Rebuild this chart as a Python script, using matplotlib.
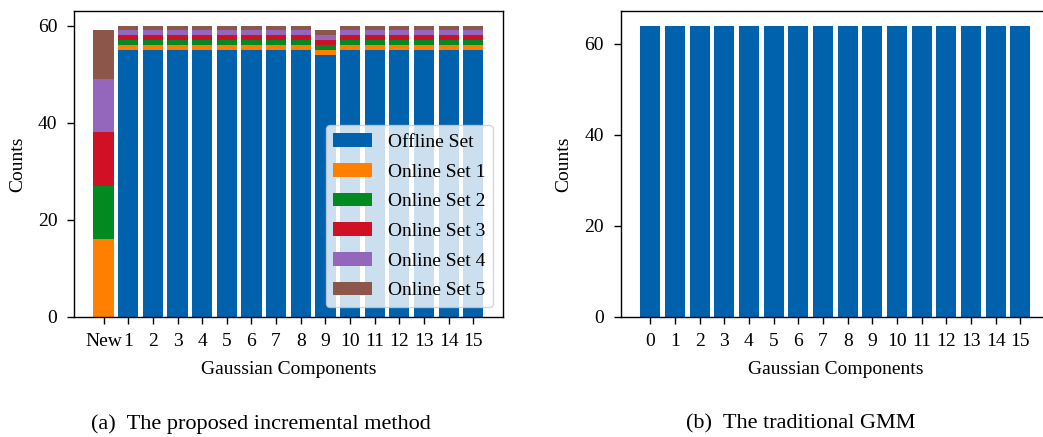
import matplotlib
matplotlib.use("Agg")
import matplotlib.pyplot as plt
import numpy as np

plt.rcParams['font.family'] = ['Liberation Serif', 'DejaVu Serif']

# ---- data ----
left_labels = ['New'] + [str(i) for i in range(1, 16)]
offline = [0, 55, 55, 55, 55, 55, 55, 55, 55, 54, 55, 55, 55, 55, 55, 55]
online1 = [16, 1, 1, 1, 1, 1, 1, 1, 1, 1, 1, 1, 1, 1, 1, 1]
online2 = [11, 1, 1, 1, 1, 1, 1, 1, 1, 1, 1, 1, 1, 1, 1, 1]
online3 = [11, 1, 1, 1, 1, 1, 1, 1, 1, 1, 1, 1, 1, 1, 1, 1]
online4 = [11, 1, 1, 1, 1, 1, 1, 1, 1, 1, 1, 1, 1, 1, 1, 1]
online5 = [10, 1, 1, 1, 1, 1, 1, 1, 1, 1, 1, 1, 1, 1, 1, 1]
series_names = ['Offline Set', 'Online Set 1', 'Online Set 2',
                'Online Set 3', 'Online Set 4', 'Online Set 5']

right_labels = [str(i) for i in range(16)]
gmm_counts = [64] * 16

colors = ['#0062ad', '#ff7f00', '#008a1f', '#d01025', '#9467bd', '#8c564b']

fig = plt.figure(figsize=(10.43, 4.37), dpi=100)
ax1 = fig.add_axes([0.0709, 0.2753, 0.4113, 0.6995])
ax2 = fig.add_axes([0.5951, 0.2753, 0.4116, 0.6995])

fs = 14
x = np.arange(len(left_labels))
bottom = np.zeros(len(left_labels))
for vals, name, c in zip([offline, online1, online2, online3, online4, online5],
                         series_names, colors):
    ax1.bar(x, vals, width=0.82, bottom=bottom, color=c, label=name)
    bottom += np.array(vals)
ax1.set_xticks(x)
ax1.set_xticklabels(left_labels)
ax1.set_yticks([0, 20, 40, 60])
ax1.set_xlabel('Gaussian Components', fontsize=fs, labelpad=8)
ax1.set_ylabel('Counts', fontsize=fs, labelpad=8)
leg = ax1.legend(loc='lower right', fontsize=fs, framealpha=0.8,
                 fancybox=True, labelspacing=0.62)

x2 = np.arange(len(right_labels))
ax2.bar(x2, gmm_counts, width=0.82, color=colors[0])
ax2.set_xticks(x2)
ax2.set_xticklabels(right_labels)
ax2.set_yticks([0, 20, 40, 60])
ax2.set_xlabel('Gaussian Components', fontsize=fs, labelpad=8)
ax2.set_ylabel('Counts', fontsize=fs, labelpad=9)

for ax in (ax1, ax2):
    ax.tick_params(labelsize=fs, length=5, width=1, pad=7)
    for s in ax.spines.values():
        s.set_linewidth(1.0)

fig.text(0.25, 0.03, '(a)  The proposed incremental method', ha='center',
         va='center', fontsize=16)
fig.text(0.768, 0.03, '(b)  The traditional GMM', ha='center',
         va='center', fontsize=16)

fig.savefig('out.png', dpi=100)
